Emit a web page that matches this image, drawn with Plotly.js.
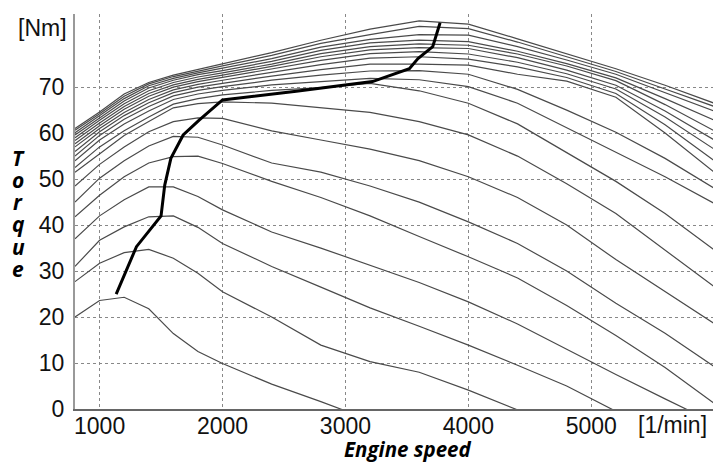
<!DOCTYPE html>
<html><head><meta charset="utf-8">
<script src="https://cdn.plot.ly/plotly-3.0.1.min.js"></script>
<style>html,body{margin:0;padding:0;background:#fff}#chart{width:713px;height:463px}</style>
</head><body><div id="chart"></div>
<script>
const rpm = [800,1000,1200,1400,1600,1800,2000,2400,2800,3200,3600,4000,4400,4800,5200,5600,6000];

const c1 = [20,23.6,24.3,21.8,16.4,12.5,9.9,5.4,1.6,-2.4,null,null,null,null,null,null,null];
const c2 = [27.7,31.7,34,34.7,32.8,29.5,25.5,20,13.9,10.3,8,4.1,-0.2,null,null,null,null];
const c3 = [31,36.7,39.6,41.8,42,39.5,36,31,26.5,22,18,13.9,9.5,5,-0.5,null,null];
const c4 = [37,42,45.5,48.3,48.3,46.2,43.3,38.5,35,31.3,27.5,23.3,18.5,13,7.5,2.2,-3];
const c5 = [41.8,46.5,50.5,53.5,54.9,55,53.4,49.5,46,42,37.5,33.1,28.5,22.5,16,9,1.2];
const c6 = [45,50.2,54,57.2,59.3,59.1,57.4,53.5,51.5,48.5,45,40.7,36,30,23,16.5,9.2];
const c7 = [48.5,53.2,57,60.3,62.5,63.3,63.2,60.5,58.5,56.5,54,50.5,46,40,32.5,25.5,18.6];
const c8 = [51.5,55.6,59.5,62.5,65.5,66.4,66.8,66.5,65.5,64.5,62.5,59.6,55,49,42.5,34.5,26.6];
const b1 = [52.5,57,60.5,63.5,66.3,67.5,68.3,69.3,69.9,70.8,69.2,66.5,62,55.8,49.5,42.5,34.6];
const b2 = [54,58.5,62,64.8,67.3,68.5,69.3,70.5,71.2,71.9,71.6,70.1,66.5,61.2,55.8,50.5,44.7];
const b3 = [55,59.5,63,65.8,68.1,69.3,70.1,71.5,72.6,73.5,73.6,72.8,69.5,65,60.2,54.5,48];
const b4 = [56,60.3,63.8,66.6,68.8,70,70.8,72.4,73.8,75,75,74.8,72.8,71.3,67.8,60,51.5];
const b5 = [57,61,64.5,67.3,69.4,70.6,71.5,73.2,74.9,76.3,76.6,76.1,74.4,72.1,68.6,61.8,54];
const b6 = [57.7,61.6,65.2,68,70,71.2,72.1,73.9,75.8,77.3,77.7,77.2,75.4,72.9,69.6,63.5,56.5];
const b7 = [58.4,62.2,65.8,68.6,70.5,71.7,72.6,74.5,76.6,78.1,78.6,78.4,76.4,73.7,70.4,64.8,58.5];
const b8 = [59,62.8,66.4,69.2,71,72.2,73.1,75,77.3,78.8,79.4,79.1,77.2,74.6,71.4,66.2,60.5];
const b9 = [59.6,63.3,67,69.8,71.5,72.7,73.6,75.6,78,79.6,80.2,79.9,77.8,75.1,72,67.5,62.8];
const b10 = [60.1,63.8,67.5,70.3,71.9,73.1,74.1,76.2,78.7,80.4,81.4,81.3,78.8,75.9,72.8,68.8,64.8];
const b11 = [60.6,64.2,68,70.7,72.3,73.5,74.6,76.9,79.5,81.4,83.2,82.7,79.8,76.6,73.4,69.6,65.8];
const b12 = [61,64.6,68.5,71,72.6,73.8,75,77.5,80.2,82.6,84.4,83.7,80.5,77.2,74,70.4,66.5];

const maxRpm = [1135,1300,1500,1530,1580,1680,1810,2000,2600,3220,3520,3590,3710,3770];
const maxTorque = [25,35.3,42,48.7,54.5,59.6,62.8,67.2,69.1,71.2,74,76.2,78.8,84];

const xTicks = [1000,2000,3000,4000,5000];
const yTicks = [0,10,20,30,40,50,60,70];
const torqueLetters = ['T','o','r','q','u','e'];
const yUnit = '[Nm]';
const xUnit = '[1/min]';
const xName = 'Engine speed';

const curves = [c1,c2,c3,c4,c5,c6,c7,c8,b1,b2,b3,b4,b5,b6,b7,b8,b9,b10,b11,b12];
const traces = curves.map(v => ({
  x: rpm, y: v, type: 'scatter', mode: 'lines', hoverinfo: 'skip',
  line: {color: '#4a4a4a', width: 1.2}
}));
traces.push({x: maxRpm, y: maxTorque, type: 'scatter', mode: 'lines',
  line: {color: '#000', width: 3}});

const L = 75, T = 14, W = 638, H = 395;
const px = p => (p - L) / W;
const py = p => (T + H - p) / H;

const ann = [];
const letterY = [158, 180, 202, 224, 247, 269];
torqueLetters.forEach((ch, i) => ann.push({
  text: ch, xref: 'paper', yref: 'paper', x: px(18), y: py(letterY[i]),
  xanchor: 'center', yanchor: 'middle', showarrow: false,
  font: {family: 'Open Sans', size: 21, color: '#000', weight: 'bold', style: 'italic'}
}));
ann.push({text: yUnit, xref: 'paper', yref: 'paper', x: px(69), y: py(28),
  xanchor: 'right', yanchor: 'middle', showarrow: false,
  font: {family: 'Liberation Sans', size: 23, color: '#111'}});
ann.push({text: xUnit, xref: 'paper', yref: 'paper', x: px(636), y: py(425),
  xanchor: 'left', yanchor: 'middle', showarrow: false,
  font: {family: 'Liberation Sans', size: 23, color: '#111'}});
ann.push({text: xName, xref: 'paper', yref: 'paper', x: px(408), y: py(449),
  xanchor: 'center', yanchor: 'middle', showarrow: false,
  font: {family: 'Open Sans', size: 20.5, color: '#000', weight: 'bold', style: 'italic'}});

const layout = {
  width: 713, height: 463,
  margin: {l: L, r: 0, t: T, b: 463 - T - H, pad: 0},
  paper_bgcolor: '#fff', plot_bgcolor: '#fff',
  showlegend: false,
  xaxis: {range: [800, 5990], tickvals: xTicks, ticktext: xTicks.map(String),
    showgrid: true, gridcolor: '#888', griddash: 'dot', gridwidth: 1,
    zeroline: false, showline: true, linecolor: '#666', linewidth: 2,
    ticks: '', ticklabelstandoff: -5,
    tickfont: {family: 'Liberation Sans', size: 23, color: '#111'}},
  yaxis: {range: [0, 85.9], tickvals: yTicks, ticktext: yTicks.map(String),
    showgrid: true, gridcolor: '#888', griddash: 'dot', gridwidth: 1,
    zeroline: false, showline: true, linecolor: '#999', linewidth: 2,
    ticks: '', ticklabelstandoff: 4,
    tickfont: {family: 'Liberation Sans', size: 23, color: '#111'}},
  annotations: ann
};
Plotly.newPlot('chart', traces, layout, {displayModeBar: false, staticPlot: true});
</script></body></html>
